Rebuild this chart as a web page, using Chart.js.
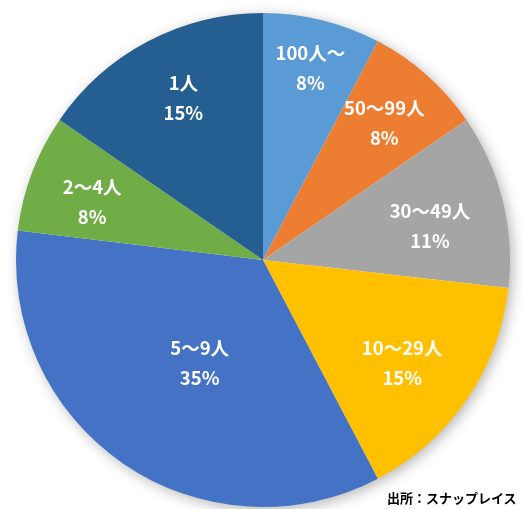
<!DOCTYPE html>
<html>
<head>
<meta charset="utf-8">
<script src="https://cdn.jsdelivr.net/npm/chart.js@4"></script>
<style>
html,body{margin:0;padding:0;background:#fff;}
#wrap{position:relative;width:523px;height:509px;}
#src{position:absolute;left:387px;top:488px;font:bold 13px "Noto Sans CJK JP",sans-serif;color:#000;white-space:nowrap;}
</style>
</head>
<body>
<div id="wrap"><canvas id="c" width="523" height="509"></canvas><div id="src">出所：スナップレイス</div></div>
<script>
const categories = ["100人〜", "50〜99人", "30〜49人", "10〜29人", "5〜9人", "2〜4人", "1人"];
const shares = [7.7, 7.7, 11.4, 15.5, 34.6, 7.7, 15.4];
const percentLabels = ["8%", "8%", "11%", "15%", "35%", "8%", "15%"];
const colors = ["#5B9BD5", "#ED7D31", "#A5A5A5", "#FFC000", "#4472C4", "#70AD47", "#255E91"];
const labelRadius = [0.80, 0.74, 0.69, 0.70, 0.49, 0.73, 0.73];
const labelAngleShiftDeg = [0, 0, 2.5, 2, -3, -2, 1.5];

const shadowPlugin = {
  id: 'pieShadow',
  beforeDatasetsDraw(chart) {
    const arc = chart.getDatasetMeta(0).data[0];
    if (!arc) return;
    const ctx = chart.ctx;
    ctx.save();
    ctx.shadowColor = 'rgba(0,0,0,0.30)';
    ctx.shadowBlur = 14;
    ctx.shadowOffsetX = 3;
    ctx.shadowOffsetY = 3;
    ctx.fillStyle = '#ffffff';
    ctx.beginPath();
    ctx.arc(arc.x, arc.y, arc.outerRadius - 0.5, 0, Math.PI * 2);
    ctx.fill();
    ctx.restore();
  }
};

const labelPlugin = {
  id: 'sliceLabels',
  afterDatasetsDraw(chart) {
    const ctx = chart.ctx;
    const meta = chart.getDatasetMeta(0);
    ctx.save();
    ctx.fillStyle = '#ffffff';
    ctx.font = 'bold 18.5px "Noto Sans CJK JP", sans-serif';
    ctx.textAlign = 'center';
    ctx.textBaseline = 'middle';
    meta.data.forEach((arc, i) => {
      const mid = (arc.startAngle + arc.endAngle) / 2 + labelAngleShiftDeg[i] * Math.PI / 180;
      const r = arc.outerRadius * labelRadius[i];
      const x = arc.x + Math.cos(mid) * r;
      const y = arc.y + Math.sin(mid) * r;
      ctx.fillText(categories[i], x, y - 15);
      ctx.fillText(percentLabels[i], x, y + 15);
    });
    ctx.restore();
  }
};

new Chart(document.getElementById('c'), {
  type: 'pie',
  data: {
    labels: categories,
    datasets: [{
      data: shares,
      backgroundColor: colors,
      borderWidth: 0
    }]
  },
  options: {
    responsive: false,
    animation: false,
    layout: { padding: { top: 13, bottom: 2, left: 16, right: 13 } },
    plugins: {
      legend: { display: false },
      tooltip: { enabled: false },
      title: { display: false }
    }
  },
  plugins: [shadowPlugin, labelPlugin]
});
</script>
</body>
</html>
